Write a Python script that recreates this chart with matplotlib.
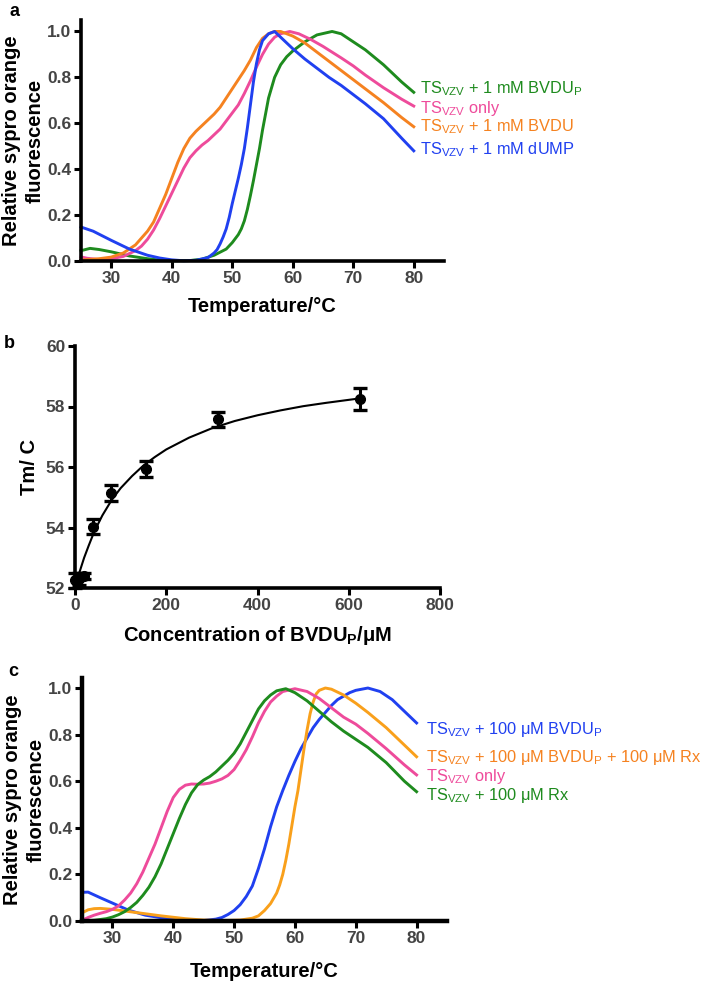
import numpy as np
import matplotlib
matplotlib.use('Agg')
import matplotlib.pyplot as plt

plt.rcParams['font.family'] = ['Liberation Sans', 'DejaVu Sans']
plt.rcParams['mathtext.fontset'] = 'custom'
plt.rcParams['mathtext.rm'] = 'Liberation Sans'
plt.rcParams['mathtext.bf'] = 'Liberation Sans:bold'

GREEN = '#1e8b1e'
PINK = '#ee4b9b'
ORANGE = '#f58220'
BLUE = '#2040f0'
ORANGE2 = '#f9a01b'

# ---- panel a: melting curves, 1 mM ligands ----
a_blue_t = [25, 27, 30, 33, 36, 38, 40, 42, 44, 46, 47, 47.5, 48, 48.5, 49, 49.5, 50, 50.5, 51, 51.5, 52, 52.5, 53,
            53.5, 54, 54.5, 55, 56, 57, 58, 60, 62, 64, 66, 68, 70, 72, 75, 78, 80]
a_blue_y = [0.148, 0.13, 0.09, 0.052, 0.025, 0.013, 0.005, 0.001, 0.003, 0.015, 0.035, 0.05, 0.075, 0.105, 0.14, 0.19,
            0.25, 0.305, 0.36, 0.42, 0.49, 0.58, 0.68,
            0.78, 0.86, 0.92, 0.96, 0.99, 1.0, 0.975, 0.925, 0.88, 0.84, 0.8, 0.765, 0.725, 0.685, 0.62, 0.535, 0.48]

a_green_t = [25, 26.5, 28, 30, 33, 36, 38, 40, 43, 45, 47, 49, 50, 51, 51.5, 52, 52.5, 53, 53.5, 54, 54.5, 55, 55.5, 56,
             57, 58, 59, 60, 62, 64, 66.5, 68, 70, 72, 75, 78, 80]
a_green_y = [0.045, 0.055, 0.05, 0.04, 0.022, 0.01, 0.004, 0.001, 0.002, 0.008, 0.025, 0.052, 0.08, 0.115, 0.14, 0.175,
             0.225, 0.285, 0.35, 0.42, 0.49, 0.57, 0.64, 0.71,
             0.8, 0.855, 0.89, 0.915, 0.955, 0.985, 1.0, 0.99, 0.955, 0.92, 0.855, 0.78, 0.735]

a_orange_t = [25, 28, 30, 32, 34, 36, 37, 38, 39, 40, 41, 42, 43, 44, 45, 46, 47, 48, 49, 50, 51, 52, 53, 54, 55, 56,
              57, 58, 60, 62, 65, 68, 70, 72, 75, 78, 80]
a_orange_y = [0.004, 0.01, 0.017, 0.035, 0.07, 0.13, 0.17, 0.23, 0.29, 0.36, 0.43, 0.49, 0.535, 0.565, 0.59, 0.615,
              0.64, 0.67, 0.71, 0.75, 0.79, 0.83, 0.875, 0.93, 0.97, 0.99,
              1.0, 1.0, 0.98, 0.95, 0.89, 0.83, 0.79, 0.75, 0.69, 0.625, 0.585]

a_pink_t = [25, 26, 28, 30, 32, 34, 35, 36, 37, 38, 39, 40, 41, 42, 43, 44, 45, 46, 47, 48, 49, 50, 51, 52, 53, 54, 55,
            56, 57, 58, 59.5, 61, 63, 65, 68, 70, 72, 75, 78, 80]
a_pink_y = [0.018, 0.012, 0.006, 0.01, 0.02, 0.045, 0.065, 0.095, 0.135, 0.185, 0.24, 0.295, 0.35, 0.405, 0.45, 0.48,
            0.505, 0.525, 0.55, 0.575, 0.61, 0.645, 0.68, 0.73, 0.785, 0.845, 0.9,
            0.945, 0.975, 0.99, 1.0, 0.99, 0.965, 0.935, 0.885, 0.85, 0.81, 0.755, 0.705, 0.675]

a_labels = [r'TS$_{\rm VZV}$ + 1 mM BVDU$_{\rm P}$', r'TS$_{\rm VZV}$ only',
            r'TS$_{\rm VZV}$ + 1 mM BVDU', r'TS$_{\rm VZV}$ + 1 mM dUMP']
a_label_y = [0.752, 0.665, 0.585, 0.485]

# ---- panel b: Tm vs BVDUP concentration ----
b_conc = [0, 9.8, 19.5, 39, 78, 156, 312.5, 625]
b_tm = [52.25, 52.3, 52.4, 54.03, 55.13, 55.93, 57.58, 58.25]
b_err = [0.25, 0.2, 0.1, 0.25, 0.27, 0.27, 0.25, 0.36]
fit_x = [0, 5, 10, 20, 30, 40, 50, 60, 80, 100, 125, 150, 175, 200, 250, 300, 350, 400, 450, 500, 550, 600, 625]
fit_y = [52.0, 52.27, 52.53, 53.0, 53.4, 53.78, 54.1, 54.4, 54.9, 55.3, 55.7, 56.05, 56.33, 56.58, 56.97, 57.28,
         57.52, 57.71, 57.87, 58.01, 58.12, 58.22, 58.27]

# ---- panel c: melting curves, 100 uM ligands ----
c_blue_t = [25, 26, 28, 30, 32.6, 35.4, 39, 42, 45, 47, 48, 49, 50, 51, 52, 53, 54, 55, 56, 57, 58, 59, 60, 61, 62, 63,
            64, 65, 66, 67, 68, 69, 70, 72, 74, 76, 78, 80]
c_blue_y = [0.123, 0.124, 0.1, 0.077, 0.047, 0.025, 0.01, 0.002, 0.002, 0.008, 0.015, 0.028, 0.045, 0.07, 0.105, 0.15,
            0.225, 0.31, 0.405, 0.49, 0.56, 0.625, 0.685, 0.74, 0.785, 0.83,
            0.865, 0.895, 0.925, 0.95, 0.965, 0.98, 0.99, 1.0, 0.985, 0.95, 0.9, 0.85]

c_orange_t = [25, 26, 27, 28, 30, 32, 34, 36, 38, 40, 42, 45, 48, 51, 53, 54, 55, 56, 57, 57.5, 58, 58.5, 59, 59.5, 60,
              60.5, 61, 61.5, 62, 62.5, 63, 63.5, 64, 65, 66, 68, 70, 72, 75, 78, 80]
c_orange_y = [0.035, 0.048, 0.053, 0.054, 0.05, 0.043, 0.036, 0.029, 0.022, 0.016, 0.01, 0.004, 0.002, 0.004, 0.012,
              0.022, 0.045, 0.075, 0.12, 0.155, 0.2, 0.26, 0.33, 0.41, 0.49,
              0.56, 0.65, 0.74, 0.82, 0.89, 0.94, 0.975, 0.99, 1.0, 0.995, 0.97, 0.935, 0.895, 0.83, 0.755, 0.705]

c_pink_t = [25, 26, 27, 28, 29, 30, 31, 32, 33, 34, 35, 36, 37, 38, 39, 40, 41, 42, 43, 44, 45, 46, 47, 48, 49, 50, 51,
            52, 53, 54, 55, 56, 57, 58, 60, 62, 64, 66, 68, 70, 72, 75, 78, 80]
c_pink_y = [0.003, 0.015, 0.025, 0.033, 0.04, 0.05, 0.065, 0.09, 0.12, 0.16, 0.21, 0.27, 0.33, 0.4, 0.47, 0.53, 0.565,
            0.583, 0.588, 0.587, 0.588, 0.592, 0.6, 0.61, 0.625, 0.65, 0.69,
            0.735, 0.79, 0.85, 0.9, 0.94, 0.965, 0.985, 0.997, 0.985, 0.955, 0.915, 0.875, 0.845, 0.805, 0.74, 0.67, 0.627]

c_green_t = [25, 27, 29, 30, 31, 32, 33, 34, 35, 36, 37, 38, 39, 40, 41, 42, 43, 44, 45, 46, 47, 48, 49, 50, 51, 52, 53,
             54, 55, 56, 57, 58.5, 60, 62, 64, 66, 68, 70, 72, 75, 78, 80]
c_green_y = [0.0, 0.003, 0.01, 0.017, 0.027, 0.04, 0.058, 0.08, 0.11, 0.145, 0.19, 0.245, 0.31, 0.375, 0.44, 0.5, 0.55,
             0.585, 0.605, 0.62, 0.64, 0.665, 0.69, 0.72, 0.76, 0.81, 0.86,
             0.91, 0.945, 0.97, 0.988, 0.997, 0.98, 0.945, 0.9, 0.855, 0.815, 0.78, 0.745, 0.68, 0.6, 0.555]

c_labels = [r'TS$_{\rm VZV}$ + 100 μM BVDU$_{\rm P}$', r'TS$_{\rm VZV}$ + 100 μM BVDU$_{\rm P}$ + 100 μM Rx',
            r'TS$_{\rm VZV}$ only', r'TS$_{\rm VZV}$ + 100 μM Rx']
c_label_y = [0.82, 0.70, 0.62, 0.54]

W, H = 709, 984
fig = plt.figure(figsize=(W / 100, H / 100), dpi=100)


def box(x0, x1, ytop, ybot):
    return [x0 / W, 1 - ybot / H, (x1 - x0) / W, (ybot - ytop) / H]


def style(ax):
    for s in ['top', 'right']:
        ax.spines[s].set_visible(False)
    for s in ['left', 'bottom']:
        ax.spines[s].set_linewidth(2.6)
    ax.tick_params(direction='out', length=5, width=2.2, labelsize=12.5, labelcolor='#444444', pad=2)
    for lab in ax.get_xticklabels() + ax.get_yticklabels():
        lab.set_fontweight('bold')


ylab = 'Relative sypro orange\nfluorescence'
LAB = dict(fontsize=14.5, fontweight='bold')
LEG = 11.8

# panel a
ax = fig.add_axes(box(81, 444, 20, 261))
for t, y, c in [(a_green_t, a_green_y, GREEN), (a_pink_t, a_pink_y, PINK),
                (a_orange_t, a_orange_y, ORANGE), (a_blue_t, a_blue_y, BLUE)]:
    ax.plot(t, y, color=c, lw=2.1, clip_on=False)
ax.set_xlim(25, 85)
ax.set_ylim(0, 1.05)
ax.set_xticks([30, 40, 50, 60, 70, 80])
ax.set_yticks([0.0, 0.2, 0.4, 0.6, 0.8, 1.0])
ax.set_yticklabels(['0.0', '0.2', '0.4', '0.6', '0.8', '1.0'])
style(ax)
for lab, yy, c in zip(a_labels, a_label_y, [GREEN, PINK, ORANGE, BLUE]):
    ax.text(81.0, yy, lab, color=c, fontsize=LEG, va='center', ha='left', clip_on=False)
ax.set_xlabel('Temperature/°C', labelpad=8, **LAB)
ax.set_ylabel(ylab, linespacing=1.3, **LAB)
ax.yaxis.set_label_coords(-0.1, 0.5)
fig.text(14 / W, 1 - 12 / H, 'a', fontsize=13, fontweight='bold', ha='center', va='center')

# panel b
ax = fig.add_axes(box(75, 440, 346, 588))
ax.plot(fit_x, fit_y, color='black', lw=1.5, clip_on=False)
ax.errorbar(b_conc, b_tm, yerr=b_err, fmt='o', color='black', ms=7, elinewidth=2.2, capsize=5, capthick=2.4,
            clip_on=False, zorder=5)
ax.set_xlim(0, 800)
ax.set_ylim(52, 60)
ax.set_xticks([0, 200, 400, 600, 800])
ax.set_yticks([52, 54, 56, 58, 60])
style(ax)
ax.set_xlabel(r'Concentration of BVDU$_{\mathbf{P}}$/μM', labelpad=8, **LAB)
ax.set_ylabel('Tm/ C', **LAB)
ax.yaxis.set_label_coords(-0.1, 0.5)
fig.text(9 / W, 1 - 343 / H, 'b', fontsize=13, fontweight='bold', ha='center', va='center')

# panel c
ax = fig.add_axes(box(82, 447, 678, 921))
for t, y, c in [(c_blue_t, c_blue_y, BLUE), (c_orange_t, c_orange_y, ORANGE2),
                (c_pink_t, c_pink_y, PINK), (c_green_t, c_green_y, GREEN)]:
    ax.plot(t, y, color=c, lw=2.1, clip_on=False)
ax.set_xlim(25, 85)
ax.set_ylim(0, 1.043)
ax.set_xticks([30, 40, 50, 60, 70, 80])
ax.set_yticks([0.0, 0.2, 0.4, 0.6, 0.8, 1.0])
ax.set_yticklabels(['0.0', '0.2', '0.4', '0.6', '0.8', '1.0'])
style(ax)
for s in ['left', 'bottom']:
    ax.spines[s].set_linewidth(3.2)
for lab, yy, c in zip(c_labels, c_label_y, [BLUE, ORANGE, PINK, GREEN]):
    ax.text(81.6, yy, lab, color=c, fontsize=LEG, va='center', ha='left', clip_on=False)
ax.set_xlabel('Temperature/°C', labelpad=12, **LAB)
ax.set_ylabel(ylab, linespacing=1.3, **LAB)
ax.yaxis.set_label_coords(-0.1, 0.5)
fig.text(13 / W, 1 - 672 / H, 'c', fontsize=13, fontweight='bold', ha='center', va='center')

fig.savefig('out.png', dpi=100)
